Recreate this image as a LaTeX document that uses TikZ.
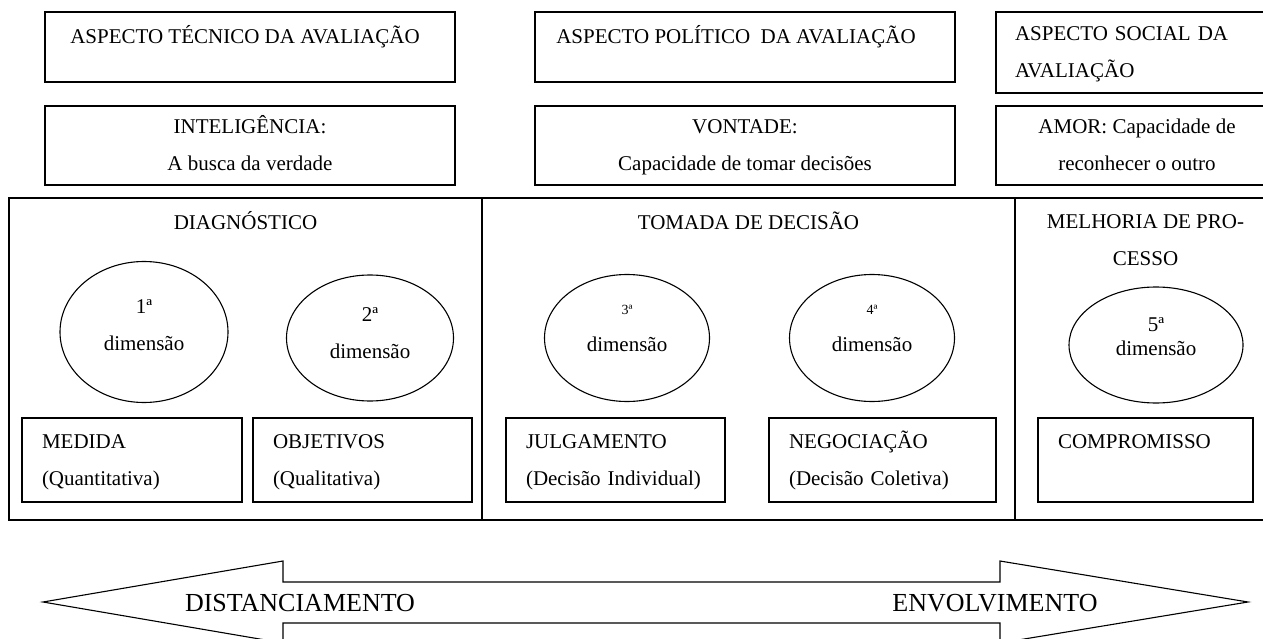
\documentclass[tikz,border=0pt]{standalone}
\usepackage{fontspec}
\setmainfont{Liberation Serif}
\usepackage{tikz}
\usetikzlibrary{shapes}
\usetikzlibrary{positioning,calc}
\tikzstyle{Abox}=[shape=rectangle,draw=black,line width=1.1pt,inner sep=0pt]
\tikzstyle{Sbox}=[shape=rectangle,draw=black,line width=1.4pt,inner sep=0pt]
\tikzstyle{Dim}=[shape=ellipse,draw=black,line width=1.1pt,inner sep=0pt]
\tikzstyle{txt}=[font=\fontsize{21}{37}\selectfont,align=center,inner sep=0pt]
\tikzstyle{ltxt}=[font=\fontsize{21}{37}\selectfont,align=left]
\tikzstyle{bigtxt}=[font=\fontsize{26}{30}\selectfont,inner sep=0pt]
% same top and bottom on every line of text
\newcommand{\hi}{\vphantom{ÃÍ}}
\newcommand{\lo}{\vphantom{(Çg)}}

\begin{document}
\begin{tikzpicture}[x=1pt,y=-1pt]
\useasboundingbox (0,0) rectangle (1263,639);
\clip (0,0) rectangle (1263,639);

% aspectos
\node[Abox,minimum width=410pt,minimum height=70pt] (TEC) at (250,47) {};
\node[txt] (TECt) at (245,37) {\hi ASPECTO TÉCNICO DA AVALIAÇÃO\lo};
\node[Abox,minimum width=420pt,minimum height=70pt] (POL) at (745,47) {};
\node[txt] (POLt) at (736,37) {\hi ASPECTO POLÍTICO\ \ DA AVALIAÇÃO\lo};
\node[Abox,ltxt,minimum width=282pt,minimum height=81pt,text width=244pt,inner xsep=19pt] (SOC) at (1137,52.5) {\hi ASPECTO SOCIAL DA\\AVALIAÇÃO\lo};

\node[Abox,txt,minimum width=410pt,minimum height=79pt] (INT) at (250,145.5) {\hi INTELIGÊNCIA:\\A busca da verdade\lo};
\node[Abox,txt,minimum width=420pt,minimum height=79pt] (VON) at (745,145.5) {\hi VONTADE:\\Capacidade de tomar decisões\lo};
\node[Abox,txt,minimum width=282pt,minimum height=79pt] (AMO) at (1137,145.5) {\hi AMOR: Capacidade de\\reconhecer o outro\lo};

% quadro
\node[Sbox,minimum width=473pt,minimum height=322pt] (DIAG) at (245.5,359) {};
\node[Sbox,minimum width=533pt,minimum height=322pt] (TOMA) at (748.5,359) {};
\node[Sbox,minimum width=261pt,minimum height=322pt] (MELH) at (1145.5,359) {};
\node[txt] (DIAGt) at ($(DIAG.north)+(0,25)$) {\hi DIAGNÓSTICO\lo};
\node[txt] (TOMAt) at ($(TOMA.north)+(0,25)$) {\hi TOMADA DE DECISÃO\lo};
\node[txt] (MELHt) at ($(MELH.north)+(0,43)$) {\hi MELHORIA DE PRO-\\CESSO\lo};

\node[Dim,minimum width=168pt,minimum height=141pt] (D1) at (144,332) {};
\node[txt] at (144,325) {\hi 1ª\\dimensão\lo};
\node[Dim,minimum width=167pt,minimum height=126pt] (D2) at (370,338) {};
\node[txt] at (370,333) {\hi 2ª\\dimensão\lo};
\node[Dim,minimum width=165pt,minimum height=127pt] (D3) at (627,338) {};
\node[txt] at (627,326) {\hi{\fontsize{14}{14}\selectfont 3ª}\\dimensão\lo};
\node[Dim,minimum width=165pt,minimum height=127pt] (D4) at (872,338) {};
\node[txt] at (872,326) {\hi{\fontsize{14}{14}\selectfont 4ª}\\dimensão\lo};
\node[Dim,minimum width=174pt,minimum height=116pt] (D5) at (1156,345) {};
\node[txt,font=\fontsize{21}{24}\selectfont] at (1156,337) {\hi 5ª\\dimensão\lo};

\node[Abox,ltxt,minimum height=84pt,text width=180pt,inner xsep=20pt] (MED) at (132,460) {\hi MEDIDA\\(Quantitativa)\lo};
\node[Abox,ltxt,minimum height=84pt,text width=179pt,inner xsep=20pt] (OBJ) at (362.5,460) {\hi OBJETIVOS\\(Qualitativa)\lo};
\node[Abox,ltxt,minimum height=84pt,text width=179pt,inner xsep=20pt] (JUL) at (615.5,460) {\hi JULGAMENTO\\(Decisão Individual)\lo};
\node[Abox,ltxt,minimum height=84pt,text width=187pt,inner xsep=20pt] (NEG) at (882.5,460) {\hi NEGOCIAÇÃO\\(Decisão Coletiva)\lo};
\node[Abox,ltxt,minimum height=84pt,text width=175pt,inner xsep=20pt] (COM) at (1145.5,460) {\hi COMPROMISSO\\\lo};

% seta
\draw[line width=1.1pt] (43,602) -- (283,561) -- (283,582) -- (1000,582) -- (1000,561)
  -- (1248,602) -- (1000,643) -- (1000,623) -- (283,623) -- (283,643) -- cycle;
\node[bigtxt] (DIST) at (300,603) {\hi DISTANCIAMENTO\lo};
\node[bigtxt] (ENVO) at (995,603) {\hi ENVOLVIMENTO\lo};

\end{tikzpicture}
\end{document}
